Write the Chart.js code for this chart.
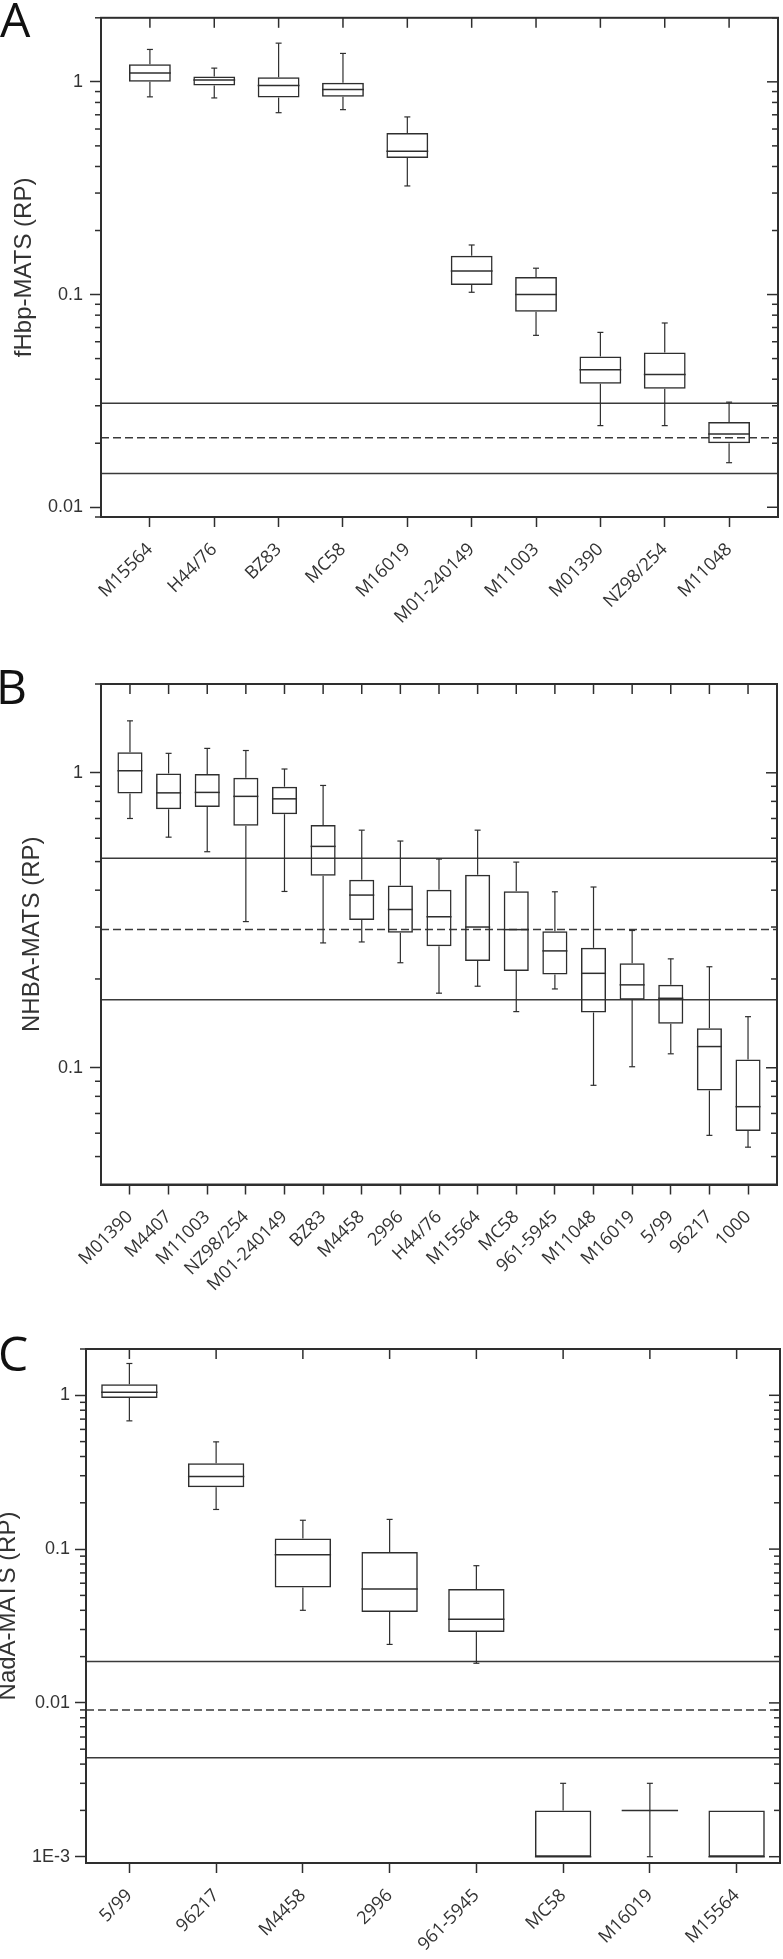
<!DOCTYPE html>
<html>
<head>
<meta charset="utf-8">
<script src="https://cdn.jsdelivr.net/npm/chart.js@4.4.1/dist/chart.umd.min.js"></script>
<style>
  body { margin: 0; background: #fff; }
  #page { position: relative; width: 783px; height: 1959px; overflow: hidden; }
  canvas { position: absolute; left: 0; }
  .tag { position: absolute; font-family: 'Open Sans'; font-size: 48px; line-height: 48px; color: #111; }
</style>
</head>
<body>
<div id="page">
  <canvas id="chartA" width="783" height="660" style="top:0"></canvas>
  <canvas id="chartB" width="783" height="680" style="top:640px"></canvas>
  <canvas id="chartC" width="783" height="679" style="top:1280px"></canvas>
  <div class="tag" style="left:0;top:-5px">A</div>
  <div class="tag" style="left:-4px;top:662px">B</div>
  <div class="tag" style="left:-2px;top:1329px">C</div>
</div>
<script>
"use strict";

// A: fHbp-MATS
var catsA = ['M15564', 'H44/76', 'BZ83', 'MC58', 'M16019', 'M01-240149', 'M11003', 'M01390', 'NZ98/254', 'M11048'];
var maxA = [1.42, 1.16, 1.52, 1.36, 0.684, 0.171, 0.133, 0.0664, 0.0735, 0.0312];
var q3A = [1.21, 1.06, 1.05, 0.99, 0.574, 0.152, 0.121, 0.0512, 0.0534, 0.0252];
var medA = [1.10, 1.02, 0.96, 0.92, 0.472, 0.129, 0.100, 0.0443, 0.0421, 0.0221];
var q1A = [1.00, 0.96, 0.845, 0.85, 0.438, 0.111, 0.083, 0.0381, 0.0361, 0.0200];
var minA = [0.85, 0.84, 0.716, 0.74, 0.324, 0.1025, 0.0643, 0.0242, 0.0242, 0.0162];
var refA = [0.0308, 0.0212, 0.0144]; // upper, cut-off (dashed), lower
var ticksA = [0.01, 0.1, 1];
var tickLabelsA = ['0.01', '0.1', '1'];

// B: NHBA-MATS
var catsB = ['M01390', 'M4407', 'M11003', 'NZ98/254', 'M01-240149', 'BZ83', 'M4458', '2996', 'H44/76',
  'M15564', 'MC58', '961-5945', 'M11048', 'M16019', '5/99', '96217', '1000'];
var maxB = [1.50, 1.164, 1.21, 1.19, 1.03, 0.906, 0.639, 0.587, 0.510, 0.639, 0.498, 0.395, 0.410, 0.292, 0.234, 0.220, 0.149];
var q3B = [1.175, 0.995, 0.99, 0.962, 0.897, 0.665, 0.434, 0.415, 0.401, 0.451, 0.397, 0.290, 0.255, 0.226, 0.191, 0.136, 0.1067];
var medB = [1.016, 0.855, 0.858, 0.832, 0.816, 0.563, 0.385, 0.344, 0.325, 0.300, 0.294, 0.249, 0.209, 0.191, 0.172, 0.118, 0.0738];
var q1B = [0.851, 0.753, 0.765, 0.661, 0.724, 0.448, 0.317, 0.287, 0.258, 0.230, 0.213, 0.207, 0.154, 0.170, 0.141, 0.0838, 0.061];
var minB = [0.700, 0.605, 0.540, 0.313, 0.396, 0.265, 0.267, 0.227, 0.179, 0.189, 0.155, 0.185, 0.0872, 0.1008, 0.1115, 0.059, 0.0538];
var refB = [0.513, 0.294, 0.170];
var ticksB = [0.1, 1];
var tickLabelsB = ['0.1', '1'];

// C: NadA-MATS
var catsC = ['5/99', '96217', 'M4458', '2996', '961-5945', 'MC58', 'M16019', 'M15564'];
var maxC = [1.61, 0.498, 0.154, 0.156, 0.078, 0.003, 0.003, 0.002];
var q3C = [1.18, 0.362, 0.117, 0.0957, 0.055, 0.002, 0.002, 0.002];
var medC = [1.045, 0.296, 0.092, 0.055, 0.035, 0.001, 0.002, 0.001];
var q1C = [0.962, 0.252, 0.0562, 0.039, 0.0289, 0.001, 0.002, 0.001];
var minC = [0.682, 0.181, 0.040, 0.024, 0.0181, 0.001, 0.001, 0.001];
var refC = [0.0186, 0.0090, 0.0044];
var ticksC = [0.001, 0.01, 0.1, 1];
var tickLabelsC = ['1E-3', '0.01', '0.1', '1'];

var ink = '#2e2e2e';
Chart.defaults.font.family = 'Liberation Sans';
Chart.defaults.color = '#333';

function seg(ctx, x1, y1, x2, y2) {
  ctx.beginPath();
  ctx.moveTo(x1, y1);
  ctx.lineTo(x2, y2);
  ctx.stroke();
}

function drawPanel(id, p) {
  var n = p.cats.length;
  var lo = -p.edge, hi = n - 1 + p.edge;

  var datasets = [{
    type: 'bar',
    data: p.cats.map(function (c, i) { return {x: i, y: [p.q1[i], p.q3[i]]}; }),
    backgroundColor: 'rgba(255,255,255,0)',
    borderColor: ink,
    borderWidth: 1.5,
    borderSkipped: false,
    barPercentage: 0.65,
    categoryPercentage: 1,
    order: 1
  }];
  p.ref.forEach(function (v, k) {
    datasets.push({
      type: 'line',
      data: [{x: lo, y: v}, {x: hi, y: v}],
      borderColor: '#3a3a3a',
      borderWidth: 1.5,
      borderDash: k === 1 ? [8, 4] : [],
      pointRadius: 0,
      order: 2
    });
  });

  // whiskers, medians, frame and the extra tick marks
  var extras = {
    id: 'extras',
    afterDatasetsDraw: function (chart) {
      var ctx = chart.ctx, a = chart.chartArea;
      var xs = chart.scales.x, ys = chart.scales.y;
      var bars = chart.getDatasetMeta(0).data;
      ctx.save();
      ctx.strokeStyle = ink;

      p.cats.forEach(function (c, i) {
        var x = xs.getPixelForValue(i);
        var half = bars[i].width / 2;
        ctx.lineWidth = 1.2;
        if (p.max[i] > p.q3[i]) {
          var yt = ys.getPixelForValue(p.max[i]);
          seg(ctx, x, ys.getPixelForValue(p.q3[i]), x, yt);
          seg(ctx, x - 3, yt, x + 3, yt);
        }
        if (p.min[i] < p.q1[i]) {
          var yb = ys.getPixelForValue(p.min[i]);
          seg(ctx, x, ys.getPixelForValue(p.q1[i]), x, yb);
          seg(ctx, x - 3, yb, x + 3, yb);
        }
        ctx.lineWidth = 1.5;
        var ym = ys.getPixelForValue(p.med[i]);
        seg(ctx, x - half, ym, x + half, ym);
        // top ticks, pointing in
        seg(ctx, x, a.top, x, a.top + 10);
      });

      // log minor ticks
      var e0 = Math.floor(Math.log10(p.ymin)), e1 = Math.ceil(Math.log10(p.ymax));
      for (var e = e0; e <= e1; e++) {
        for (var m = 2; m <= 9; m++) {
          var v = m * Math.pow(10, e);
          if (v < p.ymin || v > p.ymax) continue;
          var y = ys.getPixelForValue(v);
          seg(ctx, a.left - 6, y, a.left, y);
          seg(ctx, a.right - 6, y, a.right, y);
        }
      }
      p.ticks.forEach(function (v) {
        var y = ys.getPixelForValue(v);
        seg(ctx, a.right - 11, y, a.right, y);
      });

      ctx.lineWidth = 2;
      ctx.strokeRect(a.left, a.top, a.right - a.left, a.bottom - a.top);
      ctx.restore();
    }
  };

  return new Chart(document.getElementById(id), {
    type: 'bar',
    data: {datasets: datasets},
    plugins: [extras],
    options: {
      responsive: false,
      animation: false,
      layout: {padding: {top: p.top, right: p.right, left: 0, bottom: 0}},
      plugins: {legend: {display: false}, tooltip: {enabled: false}},
      scales: {
        x: {
          type: 'linear',
          min: lo,
          max: hi,
          offset: false,
          afterBuildTicks: function (s) {
            s.ticks = p.cats.map(function (c, i) { return {value: i}; });
          },
          afterFit: function (s) { s.height = p.xh; },
          ticks: {
            autoSkip: false,
            maxRotation: 45,
            minRotation: 45,
            padding: 12,
            font: {family: 'Open Sans', size: 18},
            callback: function (v, i) { return p.cats[i]; }
          },
          grid: {offset: false, drawOnChartArea: false, tickLength: 10, tickWidth: 1.5, tickColor: ink},
          border: {color: ink, width: 2}
        },
        y: {
          type: 'logarithmic',
          min: p.ymin,
          max: p.ymax,
          afterBuildTicks: function (s) {
            s.ticks = p.ticks.map(function (v) { return {value: v}; });
          },
          afterFit: function (s) { s.width = p.left; },
          ticks: {
            padding: p.labelPad,
            font: {size: 18},
            callback: function (v, i) { return p.tickLabels[i]; }
          },
          grid: {drawOnChartArea: false, tickLength: 11, tickWidth: 1.5, tickColor: ink},
          border: {color: ink, width: 2},
          title: {
            display: true,
            text: p.title,
            font: {size: 24, lineHeight: 1},
            padding: {top: p.titlePad, bottom: 0}
          }
        }
      }
    }
  });
}

drawPanel('chartA', {
  cats: catsA, max: maxA, q3: q3A, med: medA, q1: q1A, min: minA, ref: refA,
  ticks: ticksA, tickLabels: tickLabelsA, title: 'fHbp-MATS (RP)',
  ymin: 0.009, ymax: 2, edge: 0.76, left: 101, top: 16, right: 5, xh: 143, labelPad: 7, titlePad: 12
});

drawPanel('chartB', {
  cats: catsB, max: maxB, q3: q3B, med: medB, q1: q1B, min: minB, ref: refB,
  ticks: ticksB, tickLabels: tickLabelsB, title: 'NHBA-MATS (RP)',
  ymin: 0.0402, ymax: 2, edge: 0.75, left: 101, top: 44, right: 6, xh: 135.5, labelPad: 7, titlePad: 20
});

drawPanel('chartC', {
  cats: catsC, max: maxC, q3: q3C, med: medC, q1: q1C, min: minC, ref: refC,
  ticks: ticksC, tickLabels: tickLabelsC, title: 'NadA-MATS (RP)',
  ymin: 0.00091, ymax: 2, edge: 0.5, left: 86, top: 69, right: 3, xh: 96, labelPad: 5, titlePad: -4
});
</script>
</body>
</html>
